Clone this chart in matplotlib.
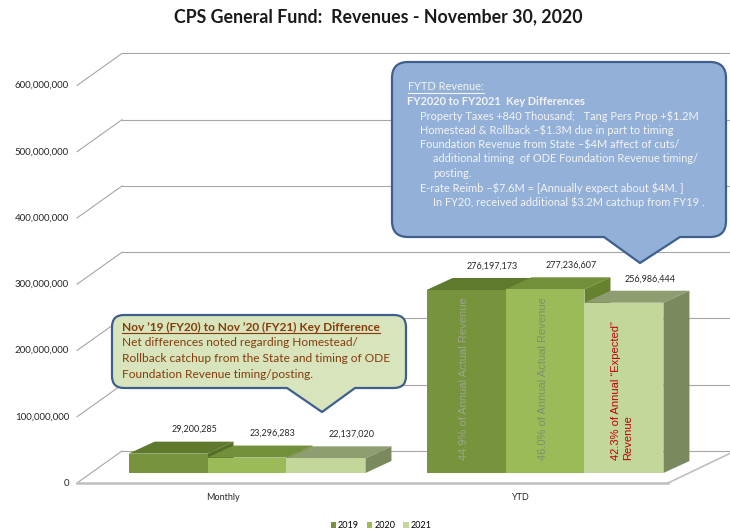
import matplotlib.pyplot as plt
import numpy as np
from matplotlib.path import Path
from matplotlib.patches import Polygon, PathPatch

# data
categories = ['Monthly', 'YTD']
years = ['2019', '2020', '2021']
rev_2019 = [29200285, 276197173]
rev_2020 = [23296283, 277236607]
rev_2021 = [22137020, 256986444]
y_ticks = [0, 100000000, 200000000, 300000000, 400000000, 500000000, 600000000]
ytd_notes = ['44.9% of Annual Actual Revenue',
             '46.0% of Annual Actual Revenue',
             '42.3% of Annual \u201cExpected\u201d\nRevenue']

title = 'CPS General Fund:  Revenues - November 30, 2020'
blue_lines = [
    'FYTD Revenue:',
    'FY2020 to FY2021  Key Differences',
    'Property Taxes +840 Thousand;   Tang Pers Prop +$1.2M',
    'Homestead & Rollback \u2013$1.3M due in part to timing',
    'Foundation Revenue from State \u2013$4M affect of cuts/',
    'additional timing  of ODE Foundation Revenue timing/',
    'posting.',
    'E-rate Reimb \u2013$7.6M = [Annually expect about $4M. ]',
    'In FY20, received additional $3.2M catchup from FY19 .',
]
green_lines = [
    "Nov \u201919 (FY20) to Nov \u201920 (FY21) Key Difference",
    'Net differences noted regarding Homestead/',
    'Rollback catchup from the State and timing of ODE',
    'Foundation Revenue timing/posting.',
]

front_cols = ['#77933C', '#9BBB59', '#C4D79B']
top_cols = ['#5F7A2C', '#72903A', '#8E9E70']
side_cols = ['#566E28', '#66822F', '#7A8A5E']

plt.rcParams['font.family'] = ['Lato', 'DejaVu Sans']

W_PX, H_PX = 730, 531
fig = plt.figure(figsize=(7.3, 5.31), dpi=100)

# main axes: x in category units, y in dollars; pseudo 3d via pixel offsets
PX_CAT = 298.0      # pixels per category step
CX0 = 247.0         # pixel x of the first category
K = 0.6626e-6       # pixels per dollar
BASE = 473.0        # pixel y of the bar base


def dx(p):
    return p / PX_CAT


def dy(p):
    return p / K


def px2x(p):
    return (p - CX0) / PX_CAT


ax = fig.add_axes([0, 0, 1, 1])
ax.set_xlim(px2x(0), px2x(W_PX))
ax.set_ylim(-dy(H_PX - BASE), dy(BASE))
ax.axis('off')

grid_c = '#A6A6A6'
front_y = -dy(10)          # front edge of the floor
wall_dx, wall_dy = dx(45), dy(32)
x_front = px2x(77)

# side wall + back wall gridlines
for t in y_ticks:
    ax.plot([x_front, x_front + wall_dx], [t + front_y, t + front_y + wall_dy],
            color=grid_c, lw=0.8, zorder=1)
    ax.plot([x_front + wall_dx, px2x(W_PX)], [t + front_y + wall_dy] * 2,
            color=grid_c, lw=0.8, zorder=1)
    ax.text(px2x(69), t + front_y, f'{t:,}', ha='right', va='center',
            fontsize=7, color='#262626')

# floor
ax.plot([x_front, px2x(668)], [front_y, front_y], color='#BFBFBF', lw=1.8, zorder=1)
ax.plot([px2x(668), px2x(735)], [front_y, front_y + wall_dy], color='#BFBFBF', lw=1.2, zorder=1)

# bars
W = 0.265
bdx, bdy = dx(26), dy(12)
series = [rev_2019, rev_2020, rev_2021]
note_cols = ['#9DA58F', '#7F8F6A', '#C00000']
for i, cat in enumerate(categories):
    for j, vals in enumerate(series):
        v = vals[i]
        left = i + (j - 1) * W - W / 2
        z = 3 + j
        ax.add_patch(Polygon([(left, v), (left + W, v), (left + W + bdx, v + bdy), (left + bdx, v + bdy)],
                             closed=True, fc=top_cols[j], ec='none', zorder=z))
        ax.add_patch(Polygon([(left + W, 0), (left + W, v), (left + W + bdx, v + bdy), (left + W + bdx, bdy)],
                             closed=True, fc=side_cols[j], ec='none', zorder=z))
        ax.bar(left, v, width=W, align='edge', color=front_cols[j], zorder=z,
               label=years[j] if i == 0 else None)
        ax.text(left + W / 2 + bdx, v + bdy + dy(12), f'{v:,}', ha='center', va='center',
                fontsize=6.5, color='#262626', zorder=10)
        if cat == 'YTD':
            ax.text(left + W / 2 - dx(2), dy(13), ytd_notes[j], rotation=90,
                    rotation_mode='anchor', ha='left', va='center', multialignment='left',
                    fontsize=8, color=note_cols[j], family=['Liberation Sans', 'DejaVu Sans'], zorder=10)
    ax.text(i - dx(24), front_y - dy(15), cat, ha='center', va='center',
            fontsize=6.5, color='#262626')

ax.legend(loc='center', bbox_to_anchor=(381 / W_PX, 1 - 526 / H_PX), ncol=3, frameon=False,
          fontsize=6.5, handlelength=0.6, handleheight=0.6, handletextpad=0.2,
          columnspacing=0.9, borderpad=0)

# overlay in pixel coordinates for title and callouts
ov = fig.add_axes([0, 0, 1, 1], facecolor='none')
ov.set_xlim(0, W_PX)
ov.set_ylim(H_PX, 0)
ov.axis('off')

ov.text(378, 17, title, ha='center', va='center', fontsize=12.8, fontweight='bold', color='#1A1A1A')


def callout(x0, y0, x1, y1, r, bl, tip, br, fc, ec):
    verts = [(x0 + r, y0), (x1 - r, y0), (x1, y0), (x1, y0 + r),
             (x1, y1 - r), (x1, y1), (x1 - r, y1),
             (br, y1), tip, (bl, y1),
             (x0 + r, y1), (x0, y1), (x0, y1 - r),
             (x0, y0 + r), (x0, y0), (x0 + r, y0), (x0 + r, y0)]
    codes = [Path.MOVETO, Path.LINETO, Path.CURVE3, Path.CURVE3,
             Path.LINETO, Path.CURVE3, Path.CURVE3,
             Path.LINETO, Path.LINETO, Path.LINETO,
             Path.LINETO, Path.CURVE3, Path.CURVE3,
             Path.LINETO, Path.CURVE3, Path.CURVE3, Path.CLOSEPOLY]
    ov.add_patch(PathPatch(Path(verts, codes), fc=fc, ec=ec, lw=1.6, zorder=5))


callout(392, 62, 726, 237, 16, 604, (640, 263), 680, '#93B0D8', '#3F5F8F')
callout(112, 315, 406, 388, 12, 287, (322, 412), 355, '#D8E4BC', '#3F5F8F')

underlined = []
blue_x = [408, 407, 420, 420, 420, 433, 433, 420, 433]
for k, line in enumerate(blue_lines):
    t = ov.text(blue_x[k], 87 + 14.4 * k, line, ha='left', va='center', fontsize=7.9,
                color='#F4F4F4', fontweight='bold' if k == 1 else 'normal', zorder=6,
                parse_math=False)
    if k == 0:
        underlined.append((t, '#F4F4F4'))

for k, line in enumerate(green_lines):
    t = ov.text(122, 327 + 16 * k, line, ha='left', va='center', fontsize=8.6,
                color='#843C0C', fontweight='bold' if k == 0 else 'normal', zorder=6)
    if k == 0:
        underlined.append((t, '#843C0C'))

fig.canvas.draw()
inv = ov.transData.inverted()
for t, c in underlined:
    bb = t.get_window_extent()
    (xa, yb), (xb, _) = inv.transform([(bb.x0, bb.y0), (bb.x1, bb.y1)])
    ov.plot([xa, xb], [yb, yb], color=c, lw=0.8, zorder=6)

fig.savefig('out.png', dpi=100)
